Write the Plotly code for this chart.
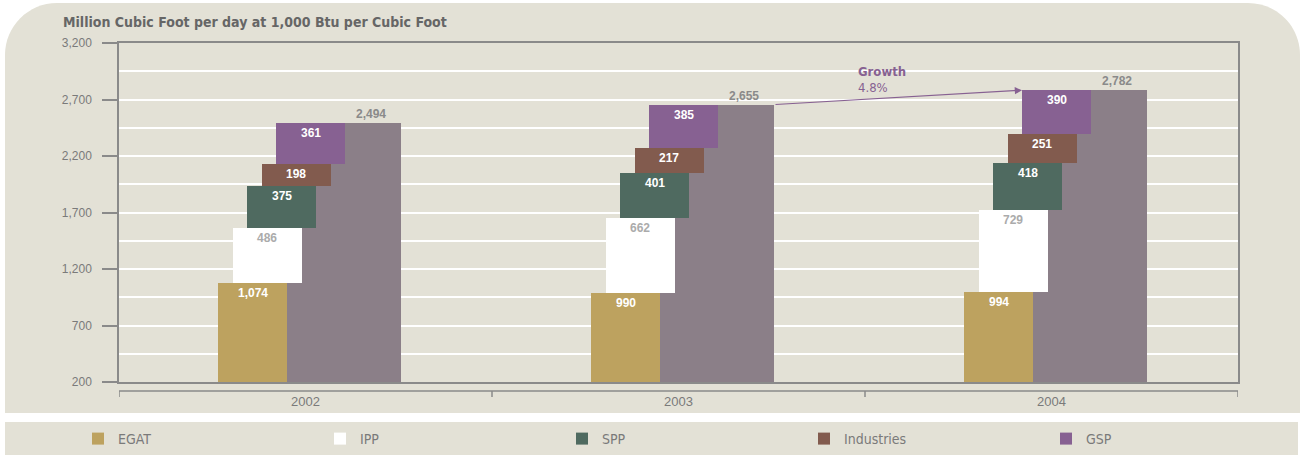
import plotly.graph_objects as go

# ---------------- data ----------------
years = ["2002", "2003", "2004"]
egat = [1074, 990, 994]
ipp = [486, 662, 729]
spp = [375, 401, 418]
industries = [198, 217, 251]
gsp = [361, 385, 390]
totals = [2494, 2655, 2782]
series_names = ["EGAT", "IPP", "SPP", "Industries", "GSP"]
y_ticks = [200, 700, 1200, 1700, 2200, 2700, 3200]
title_text = "Million Cubic Foot per day at 1,000 Btu per Cubic Foot"
growth_title = "Growth"
growth_value = "4.8%"

# ---------------- styles ----------------
colors = ["#BDA25F", "#FFFFFF", "#4F6A60", "#825B4E", "#876192"]
label_colors = ["white", "#ABABAB", "white", "white", "white"]
total_color = "#8B7F88"
panel_color = "#E3E1D6"
axis_color = "#8A8A8A"
text_grey = "#7A7A7A"
purple = "#876192"
NARROW = "DejaVu Sans Condensed, Liberation Sans Narrow, sans-serif"
REG = "Liberation Sans, Arial, sans-serif"

W, H = 1304, 455
ML, MR, MT, MB = 119, 66, 43, 73
PW = W - ML - MR
PH = H - MT - MB


def px2x(px):
    return (px - ML) / PW


def py2y(py):
    return (H - MB - py) / PH


UNIT = PW / 3.0
SEG_W = 69 / UNIT
SEG_SHIFT = 14.5 / UNIT
FIRST_LEFT = 99 / UNIT
TOT_W = 114 / UNIT

series = [egat, ipp, spp, industries, gsp]

fig = go.Figure()

# total bars (behind)
tot_x = [i + FIRST_LEFT + SEG_W + TOT_W / 2 for i in range(len(years))]
fig.add_trace(go.Bar(x=tot_x, y=totals, width=TOT_W, marker=dict(color=total_color, line=dict(width=0)),
                     name="Total", showlegend=False, hoverinfo="skip"))

annotations = []
bases = [0] * len(years)
for k, (vals, name) in enumerate(zip(series, series_names)):
    xs = [i + FIRST_LEFT + k * SEG_SHIFT + SEG_W / 2 for i in range(len(years))]
    fig.add_trace(go.Bar(x=xs, y=vals, base=list(bases), width=SEG_W,
                         marker=dict(color=colors[k], line=dict(width=0)),
                         name=name, hoverinfo="skip"))
    for i in range(len(years)):
        top = bases[i] + vals[i]
        annotations.append(dict(x=xs[i], y=top, xref="x", yref="y", text=f"{vals[i]:,}",
                                showarrow=False, yanchor="top", yshift=-1,
                                font=dict(family=REG, size=12, color=label_colors[k], weight="bold")))
    bases = [b + v for b, v in zip(bases, vals)]

# total labels
for i in range(len(years)):
    annotations.append(dict(x=tot_x[i] + 27 / UNIT, y=totals[i], xref="x", yref="y", text=f"{totals[i]:,}",
                            showarrow=False, yanchor="bottom", yshift=0,
                            font=dict(family=REG, size=12, color="#8A8A8A", weight="bold")))

# growth arrow
annotations.append(dict(x=2 + FIRST_LEFT + 4 * SEG_SHIFT, y=totals[2], xref="x", yref="y",
                        ax=1 + FIRST_LEFT + SEG_W + TOT_W, ay=totals[1], axref="x", ayref="y",
                        text="", showarrow=True, arrowhead=2, arrowsize=1.2, arrowwidth=1.2,
                        arrowcolor=purple, standoff=0, startstandoff=0))
annotations.append(dict(x=px2x(856), y=py2y(71), xref="paper", yref="paper", text=growth_title,
                        showarrow=False, xanchor="left", yanchor="middle",
                        font=dict(family=NARROW, size=13, color=purple, weight="bold")))
annotations.append(dict(x=px2x(856), y=py2y(87), xref="paper", yref="paper", text=growth_value,
                        showarrow=False, xanchor="left", yanchor="middle",
                        font=dict(family=NARROW, size=13, color=purple)))

# title
annotations.append(dict(x=px2x(61), y=py2y(22), xref="paper", yref="paper", text=title_text,
                        showarrow=False, xanchor="left", yanchor="middle",
                        font=dict(family=NARROW, size=14, color="#666666", weight="bold")))

# category labels
for i, yr in enumerate(years):
    annotations.append(dict(x=i + 0.5, y=py2y(401), xref="x", yref="paper", text=yr,
                            showarrow=False, xanchor="center", yanchor="middle",
                            font=dict(family=REG, size=13, color=text_grey)))

shapes = []


def rounded_top(x0, y0, x1, y1, r):
    k = 0.5523 * r
    pts = [
        ("M", [(x0, y1)]),
        ("L", [(x0, y0 + r)]),
        ("C", [(x0, y0 + r - k), (x0 + r - k, y0), (x0 + r, y0)]),
        ("L", [(x1 - r, y0)]),
        ("C", [(x1 - r + k, y0), (x1, y0 + r - k), (x1, y0 + r)]),
        ("L", [(x1, y1)]),
    ]
    s = ""
    for cmd, ps in pts:
        s += cmd + " ".join(f"{px2x(a):.5f},{py2y(b):.5f}" for a, b in ps) + " "
    return s + "Z"


shapes.append(dict(type="path", xref="paper", yref="paper", path=rounded_top(5, 3, 1300, 413, 52),
                   fillcolor=panel_color, line=dict(width=0), layer="below"))
shapes.append(dict(type="rect", xref="paper", yref="paper", x0=px2x(5), x1=px2x(1298),
                   y0=py2y(422), y1=py2y(458), fillcolor=panel_color, line=dict(width=0), layer="below"))

# category bracket
shapes.append(dict(type="line", xref="x", yref="paper", x0=0, x1=3, y0=py2y(391), y1=py2y(391),
                   line=dict(color=axis_color, width=1.5)))
for i in range(len(years) + 1):
    shapes.append(dict(type="line", xref="x", yref="paper", x0=i, x1=i, y0=py2y(391), y1=py2y(397),
                       line=dict(color=axis_color, width=1.5)))

fig.update_layout(
    width=W, height=H,
    margin=dict(l=ML, r=MR, t=MT, b=MB, pad=0, autoexpand=False),
    paper_bgcolor="white", plot_bgcolor="rgba(0,0,0,0)",
    barmode="overlay", bargap=0,
    annotations=annotations, shapes=shapes,
    showlegend=True,
    legend=dict(orientation="h", x=px2x(78), y=py2y(439), xanchor="left", yanchor="middle",
                xref="paper", yref="paper", entrywidth=197, entrywidthmode="pixels",
                bgcolor="rgba(0,0,0,0)", borderwidth=0, traceorder="normal",
                font=dict(family=NARROW, size=14, color=text_grey)),
    xaxis=dict(range=[0, 3], showgrid=False, zeroline=False, showticklabels=False, ticks="",
               showline=True, mirror=True, linecolor=axis_color, linewidth=1.5, fixedrange=True),
    yaxis=dict(range=[200, 3200], tickvals=y_ticks, ticktext=[f"{v:,}" for v in y_ticks],
               ticks="outside", ticklen=15, tickwidth=1.5, tickcolor=axis_color,
               ticklabelstandoff=8,
               showgrid=True, gridcolor="white", gridwidth=1.5, zeroline=False,
               minor=dict(dtick=250, tick0=200, showgrid=True, gridcolor="white", gridwidth=1.5, ticks=""),
               showline=True, mirror=True, linecolor=axis_color, linewidth=1.5,
               tickfont=dict(family=REG, size=12, color=text_grey), fixedrange=True),
)

fig.write_html("out.html")
